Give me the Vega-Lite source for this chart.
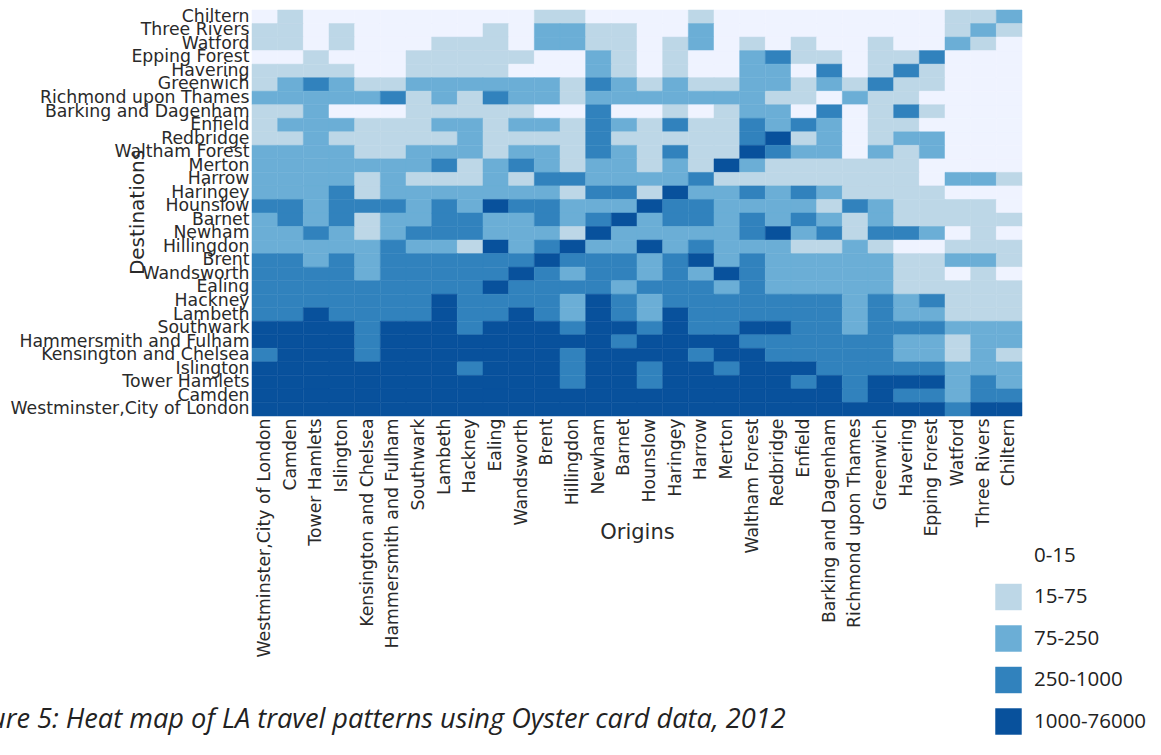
{"$schema":"https://vega.github.io/schema/vega-lite/v6.json","width":770,"height":406,"autosize":"none","padding":{"left":252,"top":10,"right":139,"bottom":339},"background":"white",
"config":{"view":{"stroke":null}},
"title":{"text":"Figure 5: Heat map of LA travel patterns using Oyster card data, 2012","orient":"bottom","anchor":"start","frame":"group","offset":0,"dx":-296,"dy":-28,"font":"Open Sans","fontSize":27.2,"fontStyle":"italic","fontWeight":"normal","color":"#222222"},
"datasets":{"places":[{"i":0,"name":"Westminster,City of London"},{"i":1,"name":"Camden"},{"i":2,"name":"Tower Hamlets"},{"i":3,"name":"Islington"},{"i":4,"name":"Kensington and Chelsea"},{"i":5,"name":"Hammersmith and Fulham"},{"i":6,"name":"Southwark"},{"i":7,"name":"Lambeth"},{"i":8,"name":"Hackney"},{"i":9,"name":"Ealing"},{"i":10,"name":"Wandsworth"},{"i":11,"name":"Brent"},{"i":12,"name":"Hillingdon"},{"i":13,"name":"Newham"},{"i":14,"name":"Barnet"},{"i":15,"name":"Hounslow"},{"i":16,"name":"Haringey"},{"i":17,"name":"Harrow"},{"i":18,"name":"Merton"},{"i":19,"name":"Waltham Forest"},{"i":20,"name":"Redbridge"},{"i":21,"name":"Enfield"},{"i":22,"name":"Barking and Dagenham"},{"i":23,"name":"Richmond upon Thames"},{"i":24,"name":"Greenwich"},{"i":25,"name":"Havering"},{"i":26,"name":"Epping Forest"},{"i":27,"name":"Watford"},{"i":28,"name":"Three Rivers"},{"i":29,"name":"Chiltern"}],
"bands":[{"k":0,"band":"0-15"},{"k":1,"band":"15-75"},{"k":2,"band":"75-250"},{"k":3,"band":"250-1000"},{"k":4,"band":"1000-76000"}],
"cells":[
{"o":0,"d":29,"b":0},{"o":1,"d":29,"b":1},{"o":2,"d":29,"b":0},{"o":3,"d":29,"b":0},{"o":4,"d":29,"b":0},{"o":5,"d":29,"b":0},{"o":6,"d":29,"b":0},{"o":7,"d":29,"b":0},{"o":8,"d":29,"b":0},{"o":9,"d":29,"b":0},{"o":10,"d":29,"b":0},{"o":11,"d":29,"b":1},{"o":12,"d":29,"b":1},{"o":13,"d":29,"b":0},{"o":14,"d":29,"b":0},{"o":15,"d":29,"b":0},{"o":16,"d":29,"b":0},{"o":17,"d":29,"b":1},{"o":18,"d":29,"b":0},{"o":19,"d":29,"b":0},{"o":20,"d":29,"b":0},{"o":21,"d":29,"b":0},{"o":22,"d":29,"b":0},{"o":23,"d":29,"b":0},{"o":24,"d":29,"b":0},{"o":25,"d":29,"b":0},{"o":26,"d":29,"b":0},{"o":27,"d":29,"b":1},{"o":28,"d":29,"b":1},{"o":29,"d":29,"b":2},
{"o":0,"d":28,"b":1},{"o":1,"d":28,"b":1},{"o":2,"d":28,"b":0},{"o":3,"d":28,"b":1},{"o":4,"d":28,"b":0},{"o":5,"d":28,"b":0},{"o":6,"d":28,"b":0},{"o":7,"d":28,"b":0},{"o":8,"d":28,"b":0},{"o":9,"d":28,"b":1},{"o":10,"d":28,"b":0},{"o":11,"d":28,"b":2},{"o":12,"d":28,"b":2},{"o":13,"d":28,"b":1},{"o":14,"d":28,"b":1},{"o":15,"d":28,"b":0},{"o":16,"d":28,"b":0},{"o":17,"d":28,"b":2},{"o":18,"d":28,"b":0},{"o":19,"d":28,"b":0},{"o":20,"d":28,"b":0},{"o":21,"d":28,"b":0},{"o":22,"d":28,"b":0},{"o":23,"d":28,"b":0},{"o":24,"d":28,"b":0},{"o":25,"d":28,"b":0},{"o":26,"d":28,"b":0},{"o":27,"d":28,"b":1},{"o":28,"d":28,"b":2},{"o":29,"d":28,"b":1},
{"o":0,"d":27,"b":1},{"o":1,"d":27,"b":1},{"o":2,"d":27,"b":0},{"o":3,"d":27,"b":1},{"o":4,"d":27,"b":0},{"o":5,"d":27,"b":0},{"o":6,"d":27,"b":0},{"o":7,"d":27,"b":1},{"o":8,"d":27,"b":1},{"o":9,"d":27,"b":1},{"o":10,"d":27,"b":0},{"o":11,"d":27,"b":2},{"o":12,"d":27,"b":2},{"o":13,"d":27,"b":1},{"o":14,"d":27,"b":1},{"o":15,"d":27,"b":0},{"o":16,"d":27,"b":1},{"o":17,"d":27,"b":2},{"o":18,"d":27,"b":0},{"o":19,"d":27,"b":1},{"o":20,"d":27,"b":0},{"o":21,"d":27,"b":1},{"o":22,"d":27,"b":0},{"o":23,"d":27,"b":0},{"o":24,"d":27,"b":1},{"o":25,"d":27,"b":0},{"o":26,"d":27,"b":0},{"o":27,"d":27,"b":2},{"o":28,"d":27,"b":1},{"o":29,"d":27,"b":0},
{"o":0,"d":26,"b":0},{"o":1,"d":26,"b":0},{"o":2,"d":26,"b":1},{"o":3,"d":26,"b":0},{"o":4,"d":26,"b":0},{"o":5,"d":26,"b":0},{"o":6,"d":26,"b":1},{"o":7,"d":26,"b":1},{"o":8,"d":26,"b":1},{"o":9,"d":26,"b":1},{"o":10,"d":26,"b":1},{"o":11,"d":26,"b":0},{"o":12,"d":26,"b":0},{"o":13,"d":26,"b":2},{"o":14,"d":26,"b":1},{"o":15,"d":26,"b":0},{"o":16,"d":26,"b":1},{"o":17,"d":26,"b":0},{"o":18,"d":26,"b":0},{"o":19,"d":26,"b":2},{"o":20,"d":26,"b":3},{"o":21,"d":26,"b":1},{"o":22,"d":26,"b":1},{"o":23,"d":26,"b":0},{"o":24,"d":26,"b":1},{"o":25,"d":26,"b":1},{"o":26,"d":26,"b":3},{"o":27,"d":26,"b":0},{"o":28,"d":26,"b":0},{"o":29,"d":26,"b":0},
{"o":0,"d":25,"b":1},{"o":1,"d":25,"b":1},{"o":2,"d":25,"b":1},{"o":3,"d":25,"b":1},{"o":4,"d":25,"b":0},{"o":5,"d":25,"b":0},{"o":6,"d":25,"b":1},{"o":7,"d":25,"b":1},{"o":8,"d":25,"b":1},{"o":9,"d":25,"b":1},{"o":10,"d":25,"b":0},{"o":11,"d":25,"b":0},{"o":12,"d":25,"b":0},{"o":13,"d":25,"b":2},{"o":14,"d":25,"b":1},{"o":15,"d":25,"b":0},{"o":16,"d":25,"b":1},{"o":17,"d":25,"b":0},{"o":18,"d":25,"b":0},{"o":19,"d":25,"b":2},{"o":20,"d":25,"b":2},{"o":21,"d":25,"b":0},{"o":22,"d":25,"b":3},{"o":23,"d":25,"b":0},{"o":24,"d":25,"b":1},{"o":25,"d":25,"b":3},{"o":26,"d":25,"b":1},{"o":27,"d":25,"b":0},{"o":28,"d":25,"b":0},{"o":29,"d":25,"b":0},
{"o":0,"d":24,"b":1},{"o":1,"d":24,"b":2},{"o":2,"d":24,"b":3},{"o":3,"d":24,"b":2},{"o":4,"d":24,"b":1},{"o":5,"d":24,"b":1},{"o":6,"d":24,"b":2},{"o":7,"d":24,"b":2},{"o":8,"d":24,"b":2},{"o":9,"d":24,"b":2},{"o":10,"d":24,"b":2},{"o":11,"d":24,"b":2},{"o":12,"d":24,"b":1},{"o":13,"d":24,"b":3},{"o":14,"d":24,"b":2},{"o":15,"d":24,"b":1},{"o":16,"d":24,"b":2},{"o":17,"d":24,"b":1},{"o":18,"d":24,"b":1},{"o":19,"d":24,"b":2},{"o":20,"d":24,"b":2},{"o":21,"d":24,"b":1},{"o":22,"d":24,"b":2},{"o":23,"d":24,"b":1},{"o":24,"d":24,"b":3},{"o":25,"d":24,"b":1},{"o":26,"d":24,"b":1},{"o":27,"d":24,"b":0},{"o":28,"d":24,"b":0},{"o":29,"d":24,"b":0},
{"o":0,"d":23,"b":2},{"o":1,"d":23,"b":2},{"o":2,"d":23,"b":2},{"o":3,"d":23,"b":2},{"o":4,"d":23,"b":2},{"o":5,"d":23,"b":3},{"o":6,"d":23,"b":1},{"o":7,"d":23,"b":2},{"o":8,"d":23,"b":1},{"o":9,"d":23,"b":3},{"o":10,"d":23,"b":2},{"o":11,"d":23,"b":2},{"o":12,"d":23,"b":1},{"o":13,"d":23,"b":2},{"o":14,"d":23,"b":2},{"o":15,"d":23,"b":2},{"o":16,"d":23,"b":2},{"o":17,"d":23,"b":2},{"o":18,"d":23,"b":2},{"o":19,"d":23,"b":2},{"o":20,"d":23,"b":1},{"o":21,"d":23,"b":1},{"o":22,"d":23,"b":0},{"o":23,"d":23,"b":2},{"o":24,"d":23,"b":1},{"o":25,"d":23,"b":1},{"o":26,"d":23,"b":0},{"o":27,"d":23,"b":0},{"o":28,"d":23,"b":0},{"o":29,"d":23,"b":0},
{"o":0,"d":22,"b":1},{"o":1,"d":22,"b":1},{"o":2,"d":22,"b":2},{"o":3,"d":22,"b":0},{"o":4,"d":22,"b":0},{"o":5,"d":22,"b":0},{"o":6,"d":22,"b":1},{"o":7,"d":22,"b":1},{"o":8,"d":22,"b":1},{"o":9,"d":22,"b":1},{"o":10,"d":22,"b":1},{"o":11,"d":22,"b":0},{"o":12,"d":22,"b":0},{"o":13,"d":22,"b":3},{"o":14,"d":22,"b":0},{"o":15,"d":22,"b":0},{"o":16,"d":22,"b":1},{"o":17,"d":22,"b":0},{"o":18,"d":22,"b":1},{"o":19,"d":22,"b":2},{"o":20,"d":22,"b":2},{"o":21,"d":22,"b":0},{"o":22,"d":22,"b":3},{"o":23,"d":22,"b":0},{"o":24,"d":22,"b":1},{"o":25,"d":22,"b":3},{"o":26,"d":22,"b":1},{"o":27,"d":22,"b":0},{"o":28,"d":22,"b":0},{"o":29,"d":22,"b":0},
{"o":0,"d":21,"b":1},{"o":1,"d":21,"b":2},{"o":2,"d":21,"b":2},{"o":3,"d":21,"b":2},{"o":4,"d":21,"b":1},{"o":5,"d":21,"b":1},{"o":6,"d":21,"b":1},{"o":7,"d":21,"b":2},{"o":8,"d":21,"b":2},{"o":9,"d":21,"b":1},{"o":10,"d":21,"b":2},{"o":11,"d":21,"b":2},{"o":12,"d":21,"b":1},{"o":13,"d":21,"b":3},{"o":14,"d":21,"b":2},{"o":15,"d":21,"b":1},{"o":16,"d":21,"b":3},{"o":17,"d":21,"b":1},{"o":18,"d":21,"b":1},{"o":19,"d":21,"b":3},{"o":20,"d":21,"b":2},{"o":21,"d":21,"b":3},{"o":22,"d":21,"b":2},{"o":23,"d":21,"b":0},{"o":24,"d":21,"b":1},{"o":25,"d":21,"b":1},{"o":26,"d":21,"b":0},{"o":27,"d":21,"b":0},{"o":28,"d":21,"b":0},{"o":29,"d":21,"b":0},
{"o":0,"d":20,"b":1},{"o":1,"d":20,"b":1},{"o":2,"d":20,"b":2},{"o":3,"d":20,"b":1},{"o":4,"d":20,"b":1},{"o":5,"d":20,"b":1},{"o":6,"d":20,"b":1},{"o":7,"d":20,"b":1},{"o":8,"d":20,"b":2},{"o":9,"d":20,"b":1},{"o":10,"d":20,"b":1},{"o":11,"d":20,"b":1},{"o":12,"d":20,"b":1},{"o":13,"d":20,"b":3},{"o":14,"d":20,"b":1},{"o":15,"d":20,"b":1},{"o":16,"d":20,"b":1},{"o":17,"d":20,"b":1},{"o":18,"d":20,"b":1},{"o":19,"d":20,"b":3},{"o":20,"d":20,"b":4},{"o":21,"d":20,"b":1},{"o":22,"d":20,"b":2},{"o":23,"d":20,"b":0},{"o":24,"d":20,"b":1},{"o":25,"d":20,"b":2},{"o":26,"d":20,"b":2},{"o":27,"d":20,"b":0},{"o":28,"d":20,"b":0},{"o":29,"d":20,"b":0},
{"o":0,"d":19,"b":2},{"o":1,"d":19,"b":2},{"o":2,"d":19,"b":2},{"o":3,"d":19,"b":2},{"o":4,"d":19,"b":1},{"o":5,"d":19,"b":1},{"o":6,"d":19,"b":2},{"o":7,"d":19,"b":2},{"o":8,"d":19,"b":2},{"o":9,"d":19,"b":1},{"o":10,"d":19,"b":2},{"o":11,"d":19,"b":2},{"o":12,"d":19,"b":1},{"o":13,"d":19,"b":3},{"o":14,"d":19,"b":2},{"o":15,"d":19,"b":1},{"o":16,"d":19,"b":3},{"o":17,"d":19,"b":1},{"o":18,"d":19,"b":1},{"o":19,"d":19,"b":4},{"o":20,"d":19,"b":3},{"o":21,"d":19,"b":2},{"o":22,"d":19,"b":2},{"o":23,"d":19,"b":0},{"o":24,"d":19,"b":2},{"o":25,"d":19,"b":1},{"o":26,"d":19,"b":2},{"o":27,"d":19,"b":0},{"o":28,"d":19,"b":0},{"o":29,"d":19,"b":0},
{"o":0,"d":18,"b":2},{"o":1,"d":18,"b":2},{"o":2,"d":18,"b":2},{"o":3,"d":18,"b":2},{"o":4,"d":18,"b":2},{"o":5,"d":18,"b":2},{"o":6,"d":18,"b":2},{"o":7,"d":18,"b":3},{"o":8,"d":18,"b":1},{"o":9,"d":18,"b":2},{"o":10,"d":18,"b":3},{"o":11,"d":18,"b":2},{"o":12,"d":18,"b":1},{"o":13,"d":18,"b":2},{"o":14,"d":18,"b":2},{"o":15,"d":18,"b":1},{"o":16,"d":18,"b":2},{"o":17,"d":18,"b":1},{"o":18,"d":18,"b":4},{"o":19,"d":18,"b":2},{"o":20,"d":18,"b":1},{"o":21,"d":18,"b":1},{"o":22,"d":18,"b":1},{"o":23,"d":18,"b":1},{"o":24,"d":18,"b":1},{"o":25,"d":18,"b":1},{"o":26,"d":18,"b":0},{"o":27,"d":18,"b":0},{"o":28,"d":18,"b":0},{"o":29,"d":18,"b":0},
{"o":0,"d":17,"b":2},{"o":1,"d":17,"b":2},{"o":2,"d":17,"b":2},{"o":3,"d":17,"b":2},{"o":4,"d":17,"b":1},{"o":5,"d":17,"b":2},{"o":6,"d":17,"b":1},{"o":7,"d":17,"b":1},{"o":8,"d":17,"b":1},{"o":9,"d":17,"b":2},{"o":10,"d":17,"b":1},{"o":11,"d":17,"b":3},{"o":12,"d":17,"b":3},{"o":13,"d":17,"b":2},{"o":14,"d":17,"b":2},{"o":15,"d":17,"b":2},{"o":16,"d":17,"b":2},{"o":17,"d":17,"b":3},{"o":18,"d":17,"b":1},{"o":19,"d":17,"b":1},{"o":20,"d":17,"b":1},{"o":21,"d":17,"b":1},{"o":22,"d":17,"b":1},{"o":23,"d":17,"b":1},{"o":24,"d":17,"b":1},{"o":25,"d":17,"b":1},{"o":26,"d":17,"b":0},{"o":27,"d":17,"b":2},{"o":28,"d":17,"b":2},{"o":29,"d":17,"b":1},
{"o":0,"d":16,"b":2},{"o":1,"d":16,"b":2},{"o":2,"d":16,"b":2},{"o":3,"d":16,"b":3},{"o":4,"d":16,"b":1},{"o":5,"d":16,"b":2},{"o":6,"d":16,"b":2},{"o":7,"d":16,"b":2},{"o":8,"d":16,"b":2},{"o":9,"d":16,"b":2},{"o":10,"d":16,"b":2},{"o":11,"d":16,"b":2},{"o":12,"d":16,"b":1},{"o":13,"d":16,"b":3},{"o":14,"d":16,"b":3},{"o":15,"d":16,"b":1},{"o":16,"d":16,"b":4},{"o":17,"d":16,"b":2},{"o":18,"d":16,"b":2},{"o":19,"d":16,"b":3},{"o":20,"d":16,"b":2},{"o":21,"d":16,"b":3},{"o":22,"d":16,"b":2},{"o":23,"d":16,"b":1},{"o":24,"d":16,"b":1},{"o":25,"d":16,"b":1},{"o":26,"d":16,"b":1},{"o":27,"d":16,"b":0},{"o":28,"d":16,"b":0},{"o":29,"d":16,"b":0},
{"o":0,"d":15,"b":3},{"o":1,"d":15,"b":3},{"o":2,"d":15,"b":2},{"o":3,"d":15,"b":3},{"o":4,"d":15,"b":3},{"o":5,"d":15,"b":3},{"o":6,"d":15,"b":2},{"o":7,"d":15,"b":3},{"o":8,"d":15,"b":2},{"o":9,"d":15,"b":4},{"o":10,"d":15,"b":3},{"o":11,"d":15,"b":3},{"o":12,"d":15,"b":2},{"o":13,"d":15,"b":2},{"o":14,"d":15,"b":2},{"o":15,"d":15,"b":4},{"o":16,"d":15,"b":3},{"o":17,"d":15,"b":3},{"o":18,"d":15,"b":2},{"o":19,"d":15,"b":2},{"o":20,"d":15,"b":2},{"o":21,"d":15,"b":2},{"o":22,"d":15,"b":1},{"o":23,"d":15,"b":3},{"o":24,"d":15,"b":2},{"o":25,"d":15,"b":1},{"o":26,"d":15,"b":1},{"o":27,"d":15,"b":1},{"o":28,"d":15,"b":1},{"o":29,"d":15,"b":0},
{"o":0,"d":14,"b":2},{"o":1,"d":14,"b":3},{"o":2,"d":14,"b":2},{"o":3,"d":14,"b":3},{"o":4,"d":14,"b":1},{"o":5,"d":14,"b":2},{"o":6,"d":14,"b":2},{"o":7,"d":14,"b":3},{"o":8,"d":14,"b":3},{"o":9,"d":14,"b":2},{"o":10,"d":14,"b":2},{"o":11,"d":14,"b":3},{"o":12,"d":14,"b":2},{"o":13,"d":14,"b":3},{"o":14,"d":14,"b":4},{"o":15,"d":14,"b":2},{"o":16,"d":14,"b":3},{"o":17,"d":14,"b":3},{"o":18,"d":14,"b":2},{"o":19,"d":14,"b":3},{"o":20,"d":14,"b":2},{"o":21,"d":14,"b":3},{"o":22,"d":14,"b":2},{"o":23,"d":14,"b":1},{"o":24,"d":14,"b":2},{"o":25,"d":14,"b":1},{"o":26,"d":14,"b":1},{"o":27,"d":14,"b":1},{"o":28,"d":14,"b":1},{"o":29,"d":14,"b":1},
{"o":0,"d":13,"b":2},{"o":1,"d":13,"b":2},{"o":2,"d":13,"b":3},{"o":3,"d":13,"b":2},{"o":4,"d":13,"b":1},{"o":5,"d":13,"b":2},{"o":6,"d":13,"b":3},{"o":7,"d":13,"b":3},{"o":8,"d":13,"b":3},{"o":9,"d":13,"b":2},{"o":10,"d":13,"b":2},{"o":11,"d":13,"b":2},{"o":12,"d":13,"b":1},{"o":13,"d":13,"b":4},{"o":14,"d":13,"b":2},{"o":15,"d":13,"b":2},{"o":16,"d":13,"b":2},{"o":17,"d":13,"b":2},{"o":18,"d":13,"b":2},{"o":19,"d":13,"b":3},{"o":20,"d":13,"b":4},{"o":21,"d":13,"b":2},{"o":22,"d":13,"b":3},{"o":23,"d":13,"b":1},{"o":24,"d":13,"b":3},{"o":25,"d":13,"b":3},{"o":26,"d":13,"b":2},{"o":27,"d":13,"b":0},{"o":28,"d":13,"b":1},{"o":29,"d":13,"b":0},
{"o":0,"d":12,"b":2},{"o":1,"d":12,"b":2},{"o":2,"d":12,"b":2},{"o":3,"d":12,"b":2},{"o":4,"d":12,"b":2},{"o":5,"d":12,"b":3},{"o":6,"d":12,"b":2},{"o":7,"d":12,"b":2},{"o":8,"d":12,"b":1},{"o":9,"d":12,"b":4},{"o":10,"d":12,"b":2},{"o":11,"d":12,"b":3},{"o":12,"d":12,"b":4},{"o":13,"d":12,"b":2},{"o":14,"d":12,"b":2},{"o":15,"d":12,"b":4},{"o":16,"d":12,"b":2},{"o":17,"d":12,"b":3},{"o":18,"d":12,"b":2},{"o":19,"d":12,"b":2},{"o":20,"d":12,"b":2},{"o":21,"d":12,"b":1},{"o":22,"d":12,"b":1},{"o":23,"d":12,"b":2},{"o":24,"d":12,"b":1},{"o":25,"d":12,"b":0},{"o":26,"d":12,"b":0},{"o":27,"d":12,"b":1},{"o":28,"d":12,"b":1},{"o":29,"d":12,"b":1},
{"o":0,"d":11,"b":3},{"o":1,"d":11,"b":3},{"o":2,"d":11,"b":2},{"o":3,"d":11,"b":3},{"o":4,"d":11,"b":2},{"o":5,"d":11,"b":3},{"o":6,"d":11,"b":3},{"o":7,"d":11,"b":3},{"o":8,"d":11,"b":3},{"o":9,"d":11,"b":3},{"o":10,"d":11,"b":3},{"o":11,"d":11,"b":4},{"o":12,"d":11,"b":3},{"o":13,"d":11,"b":3},{"o":14,"d":11,"b":3},{"o":15,"d":11,"b":2},{"o":16,"d":11,"b":3},{"o":17,"d":11,"b":4},{"o":18,"d":11,"b":2},{"o":19,"d":11,"b":3},{"o":20,"d":11,"b":2},{"o":21,"d":11,"b":2},{"o":22,"d":11,"b":2},{"o":23,"d":11,"b":2},{"o":24,"d":11,"b":2},{"o":25,"d":11,"b":1},{"o":26,"d":11,"b":1},{"o":27,"d":11,"b":2},{"o":28,"d":11,"b":2},{"o":29,"d":11,"b":1},
{"o":0,"d":10,"b":3},{"o":1,"d":10,"b":3},{"o":2,"d":10,"b":3},{"o":3,"d":10,"b":3},{"o":4,"d":10,"b":2},{"o":5,"d":10,"b":3},{"o":6,"d":10,"b":3},{"o":7,"d":10,"b":3},{"o":8,"d":10,"b":3},{"o":9,"d":10,"b":3},{"o":10,"d":10,"b":4},{"o":11,"d":10,"b":3},{"o":12,"d":10,"b":2},{"o":13,"d":10,"b":3},{"o":14,"d":10,"b":3},{"o":15,"d":10,"b":2},{"o":16,"d":10,"b":3},{"o":17,"d":10,"b":2},{"o":18,"d":10,"b":4},{"o":19,"d":10,"b":3},{"o":20,"d":10,"b":2},{"o":21,"d":10,"b":2},{"o":22,"d":10,"b":2},{"o":23,"d":10,"b":2},{"o":24,"d":10,"b":2},{"o":25,"d":10,"b":1},{"o":26,"d":10,"b":1},{"o":27,"d":10,"b":0},{"o":28,"d":10,"b":1},{"o":29,"d":10,"b":0},
{"o":0,"d":9,"b":3},{"o":1,"d":9,"b":3},{"o":2,"d":9,"b":3},{"o":3,"d":9,"b":3},{"o":4,"d":9,"b":3},{"o":5,"d":9,"b":3},{"o":6,"d":9,"b":3},{"o":7,"d":9,"b":3},{"o":8,"d":9,"b":3},{"o":9,"d":9,"b":4},{"o":10,"d":9,"b":3},{"o":11,"d":9,"b":3},{"o":12,"d":9,"b":3},{"o":13,"d":9,"b":3},{"o":14,"d":9,"b":2},{"o":15,"d":9,"b":3},{"o":16,"d":9,"b":3},{"o":17,"d":9,"b":3},{"o":18,"d":9,"b":2},{"o":19,"d":9,"b":3},{"o":20,"d":9,"b":2},{"o":21,"d":9,"b":2},{"o":22,"d":9,"b":2},{"o":23,"d":9,"b":2},{"o":24,"d":9,"b":2},{"o":25,"d":9,"b":1},{"o":26,"d":9,"b":1},{"o":27,"d":9,"b":1},{"o":28,"d":9,"b":1},{"o":29,"d":9,"b":1},
{"o":0,"d":8,"b":3},{"o":1,"d":8,"b":3},{"o":2,"d":8,"b":3},{"o":3,"d":8,"b":3},{"o":4,"d":8,"b":3},{"o":5,"d":8,"b":3},{"o":6,"d":8,"b":3},{"o":7,"d":8,"b":4},{"o":8,"d":8,"b":3},{"o":9,"d":8,"b":3},{"o":10,"d":8,"b":3},{"o":11,"d":8,"b":3},{"o":12,"d":8,"b":2},{"o":13,"d":8,"b":4},{"o":14,"d":8,"b":3},{"o":15,"d":8,"b":2},{"o":16,"d":8,"b":3},{"o":17,"d":8,"b":3},{"o":18,"d":8,"b":3},{"o":19,"d":8,"b":3},{"o":20,"d":8,"b":3},{"o":21,"d":8,"b":3},{"o":22,"d":8,"b":3},{"o":23,"d":8,"b":2},{"o":24,"d":8,"b":3},{"o":25,"d":8,"b":2},{"o":26,"d":8,"b":3},{"o":27,"d":8,"b":1},{"o":28,"d":8,"b":1},{"o":29,"d":8,"b":1},
{"o":0,"d":7,"b":3},{"o":1,"d":7,"b":3},{"o":2,"d":7,"b":4},{"o":3,"d":7,"b":3},{"o":4,"d":7,"b":3},{"o":5,"d":7,"b":3},{"o":6,"d":7,"b":3},{"o":7,"d":7,"b":4},{"o":8,"d":7,"b":3},{"o":9,"d":7,"b":3},{"o":10,"d":7,"b":4},{"o":11,"d":7,"b":3},{"o":12,"d":7,"b":2},{"o":13,"d":7,"b":4},{"o":14,"d":7,"b":3},{"o":15,"d":7,"b":2},{"o":16,"d":7,"b":4},{"o":17,"d":7,"b":3},{"o":18,"d":7,"b":3},{"o":19,"d":7,"b":3},{"o":20,"d":7,"b":3},{"o":21,"d":7,"b":3},{"o":22,"d":7,"b":3},{"o":23,"d":7,"b":2},{"o":24,"d":7,"b":3},{"o":25,"d":7,"b":2},{"o":26,"d":7,"b":2},{"o":27,"d":7,"b":1},{"o":28,"d":7,"b":1},{"o":29,"d":7,"b":1},
{"o":0,"d":6,"b":4},{"o":1,"d":6,"b":4},{"o":2,"d":6,"b":4},{"o":3,"d":6,"b":4},{"o":4,"d":6,"b":3},{"o":5,"d":6,"b":4},{"o":6,"d":6,"b":4},{"o":7,"d":6,"b":4},{"o":8,"d":6,"b":3},{"o":9,"d":6,"b":4},{"o":10,"d":6,"b":4},{"o":11,"d":6,"b":4},{"o":12,"d":6,"b":3},{"o":13,"d":6,"b":4},{"o":14,"d":6,"b":4},{"o":15,"d":6,"b":3},{"o":16,"d":6,"b":4},{"o":17,"d":6,"b":3},{"o":18,"d":6,"b":3},{"o":19,"d":6,"b":4},{"o":20,"d":6,"b":4},{"o":21,"d":6,"b":3},{"o":22,"d":6,"b":3},{"o":23,"d":6,"b":2},{"o":24,"d":6,"b":3},{"o":25,"d":6,"b":3},{"o":26,"d":6,"b":3},{"o":27,"d":6,"b":2},{"o":28,"d":6,"b":2},{"o":29,"d":6,"b":2},
{"o":0,"d":5,"b":4},{"o":1,"d":5,"b":4},{"o":2,"d":5,"b":4},{"o":3,"d":5,"b":4},{"o":4,"d":5,"b":3},{"o":5,"d":5,"b":4},{"o":6,"d":5,"b":4},{"o":7,"d":5,"b":4},{"o":8,"d":5,"b":4},{"o":9,"d":5,"b":4},{"o":10,"d":5,"b":4},{"o":11,"d":5,"b":4},{"o":12,"d":5,"b":4},{"o":13,"d":5,"b":4},{"o":14,"d":5,"b":3},{"o":15,"d":5,"b":4},{"o":16,"d":5,"b":4},{"o":17,"d":5,"b":4},{"o":18,"d":5,"b":4},{"o":19,"d":5,"b":3},{"o":20,"d":5,"b":3},{"o":21,"d":5,"b":3},{"o":22,"d":5,"b":3},{"o":23,"d":5,"b":3},{"o":24,"d":5,"b":3},{"o":25,"d":5,"b":2},{"o":26,"d":5,"b":2},{"o":27,"d":5,"b":1},{"o":28,"d":5,"b":2},{"o":29,"d":5,"b":2},
{"o":0,"d":4,"b":3},{"o":1,"d":4,"b":4},{"o":2,"d":4,"b":4},{"o":3,"d":4,"b":4},{"o":4,"d":4,"b":3},{"o":5,"d":4,"b":4},{"o":6,"d":4,"b":4},{"o":7,"d":4,"b":4},{"o":8,"d":4,"b":4},{"o":9,"d":4,"b":4},{"o":10,"d":4,"b":4},{"o":11,"d":4,"b":4},{"o":12,"d":4,"b":3},{"o":13,"d":4,"b":4},{"o":14,"d":4,"b":4},{"o":15,"d":4,"b":4},{"o":16,"d":4,"b":4},{"o":17,"d":4,"b":3},{"o":18,"d":4,"b":4},{"o":19,"d":4,"b":4},{"o":20,"d":4,"b":3},{"o":21,"d":4,"b":3},{"o":22,"d":4,"b":3},{"o":23,"d":4,"b":3},{"o":24,"d":4,"b":3},{"o":25,"d":4,"b":2},{"o":26,"d":4,"b":2},{"o":27,"d":4,"b":1},{"o":28,"d":4,"b":2},{"o":29,"d":4,"b":1},
{"o":0,"d":3,"b":4},{"o":1,"d":3,"b":4},{"o":2,"d":3,"b":4},{"o":3,"d":3,"b":4},{"o":4,"d":3,"b":4},{"o":5,"d":3,"b":4},{"o":6,"d":3,"b":4},{"o":7,"d":3,"b":4},{"o":8,"d":3,"b":3},{"o":9,"d":3,"b":4},{"o":10,"d":3,"b":4},{"o":11,"d":3,"b":4},{"o":12,"d":3,"b":3},{"o":13,"d":3,"b":4},{"o":14,"d":3,"b":4},{"o":15,"d":3,"b":3},{"o":16,"d":3,"b":4},{"o":17,"d":3,"b":4},{"o":18,"d":3,"b":3},{"o":19,"d":3,"b":4},{"o":20,"d":3,"b":4},{"o":21,"d":3,"b":4},{"o":22,"d":3,"b":3},{"o":23,"d":3,"b":3},{"o":24,"d":3,"b":3},{"o":25,"d":3,"b":3},{"o":26,"d":3,"b":3},{"o":27,"d":3,"b":2},{"o":28,"d":3,"b":2},{"o":29,"d":3,"b":2},
{"o":0,"d":2,"b":4},{"o":1,"d":2,"b":4},{"o":2,"d":2,"b":4},{"o":3,"d":2,"b":4},{"o":4,"d":2,"b":4},{"o":5,"d":2,"b":4},{"o":6,"d":2,"b":4},{"o":7,"d":2,"b":4},{"o":8,"d":2,"b":4},{"o":9,"d":2,"b":4},{"o":10,"d":2,"b":4},{"o":11,"d":2,"b":4},{"o":12,"d":2,"b":3},{"o":13,"d":2,"b":4},{"o":14,"d":2,"b":4},{"o":15,"d":2,"b":3},{"o":16,"d":2,"b":4},{"o":17,"d":2,"b":4},{"o":18,"d":2,"b":4},{"o":19,"d":2,"b":4},{"o":20,"d":2,"b":4},{"o":21,"d":2,"b":3},{"o":22,"d":2,"b":4},{"o":23,"d":2,"b":3},{"o":24,"d":2,"b":4},{"o":25,"d":2,"b":4},{"o":26,"d":2,"b":4},{"o":27,"d":2,"b":2},{"o":28,"d":2,"b":3},{"o":29,"d":2,"b":2},
{"o":0,"d":1,"b":4},{"o":1,"d":1,"b":4},{"o":2,"d":1,"b":4},{"o":3,"d":1,"b":4},{"o":4,"d":1,"b":4},{"o":5,"d":1,"b":4},{"o":6,"d":1,"b":4},{"o":7,"d":1,"b":4},{"o":8,"d":1,"b":4},{"o":9,"d":1,"b":4},{"o":10,"d":1,"b":4},{"o":11,"d":1,"b":4},{"o":12,"d":1,"b":4},{"o":13,"d":1,"b":4},{"o":14,"d":1,"b":4},{"o":15,"d":1,"b":4},{"o":16,"d":1,"b":4},{"o":17,"d":1,"b":4},{"o":18,"d":1,"b":4},{"o":19,"d":1,"b":4},{"o":20,"d":1,"b":4},{"o":21,"d":1,"b":4},{"o":22,"d":1,"b":4},{"o":23,"d":1,"b":3},{"o":24,"d":1,"b":4},{"o":25,"d":1,"b":3},{"o":26,"d":1,"b":3},{"o":27,"d":1,"b":2},{"o":28,"d":1,"b":3},{"o":29,"d":1,"b":3},
{"o":0,"d":0,"b":4},{"o":1,"d":0,"b":4},{"o":2,"d":0,"b":4},{"o":3,"d":0,"b":4},{"o":4,"d":0,"b":4},{"o":5,"d":0,"b":4},{"o":6,"d":0,"b":4},{"o":7,"d":0,"b":4},{"o":8,"d":0,"b":4},{"o":9,"d":0,"b":4},{"o":10,"d":0,"b":4},{"o":11,"d":0,"b":4},{"o":12,"d":0,"b":4},{"o":13,"d":0,"b":4},{"o":14,"d":0,"b":4},{"o":15,"d":0,"b":4},{"o":16,"d":0,"b":4},{"o":17,"d":0,"b":4},{"o":18,"d":0,"b":4},{"o":19,"d":0,"b":4},{"o":20,"d":0,"b":4},{"o":21,"d":0,"b":4},{"o":22,"d":0,"b":4},{"o":23,"d":0,"b":4},{"o":24,"d":0,"b":4},{"o":25,"d":0,"b":4},{"o":26,"d":0,"b":4},{"o":27,"d":0,"b":3},{"o":28,"d":0,"b":4},{"o":29,"d":0,"b":4}
]},
"data":{"name":"cells"},
"transform":[
{"lookup":"o","from":{"data":{"name":"places"},"key":"i","fields":["name"]},"as":["origin"]},
{"lookup":"d","from":{"data":{"name":"places"},"key":"i","fields":["name"]},"as":["destination"]},
{"lookup":"b","from":{"data":{"name":"bands"},"key":"k","fields":["band"]},"as":["band"]}
],
"mark":{"type":"rect","strokeWidth":0.5},
"encoding":{
"x":{"field":"origin","type":"nominal","sort":{"field":"o"},"scale":{"paddingInner":0,"paddingOuter":0},"axis":{"title":"Origins","titleFont":"DejaVu Sans","titleFontSize":21,"titleFontWeight":"normal","titleColor":"#2a2a2a","titleX":385,"titleY":116,"titleBaseline":"middle","domain":false,"ticks":false,"labelAngle":-90,"labelAlign":"right","labelBaseline":"middle","labelPadding":2,"labelFont":"DejaVu Sans","labelFontSize":17.3,"labelColor":"#2a2a2a","labelOverlap":false,"labelLimit":400}},
"y":{"field":"destination","type":"nominal","sort":{"field":"d","order":"descending"},"scale":{"paddingInner":0,"paddingOuter":0},"axis":{"title":"Destinations","titleFont":"DejaVu Sans","titleFontSize":20,"titleFontWeight":"normal","titleColor":"#2a2a2a","titleX":-115,"titleY":202,"titleBaseline":"middle","titleAngle":-90,"domain":false,"ticks":false,"labelPadding":3,"labelFont":"DejaVu Sans","labelFontSize":17.3,"labelColor":"#2a2a2a","labelOverlap":false,"labelLimit":400}},
"stroke":{"field":"band","type":"nominal","scale":{"domain":["0-15","15-75","75-250","250-1000","1000-76000"],"range":["#eff3ff","#bdd7e7","#6baed6","#3182bd","#08519c"]},"legend":null},
"color":{"field":"band","type":"nominal","scale":{"domain":["0-15","15-75","75-250","250-1000","1000-76000"],"range":["#eff3ff","#bdd7e7","#6baed6","#3182bd","#08519c"]},"legend":{"orient":"none","legendX":743,"legendY":532,"title":null,"symbolType":"square","symbolSize":700,"symbolStrokeWidth":0,"labelFont":"Open Sans","labelFontSize":20.5,"labelColor":"#222222","labelOffset":12,"rowPadding":14.5,"padding":0,"values":["0-15","15-75","75-250","250-1000","1000-76000"],"encode":{"symbols":{"update":{"opacity":{"signal":"datum.value==='0-15'?0:1"}}}}}}
}}
